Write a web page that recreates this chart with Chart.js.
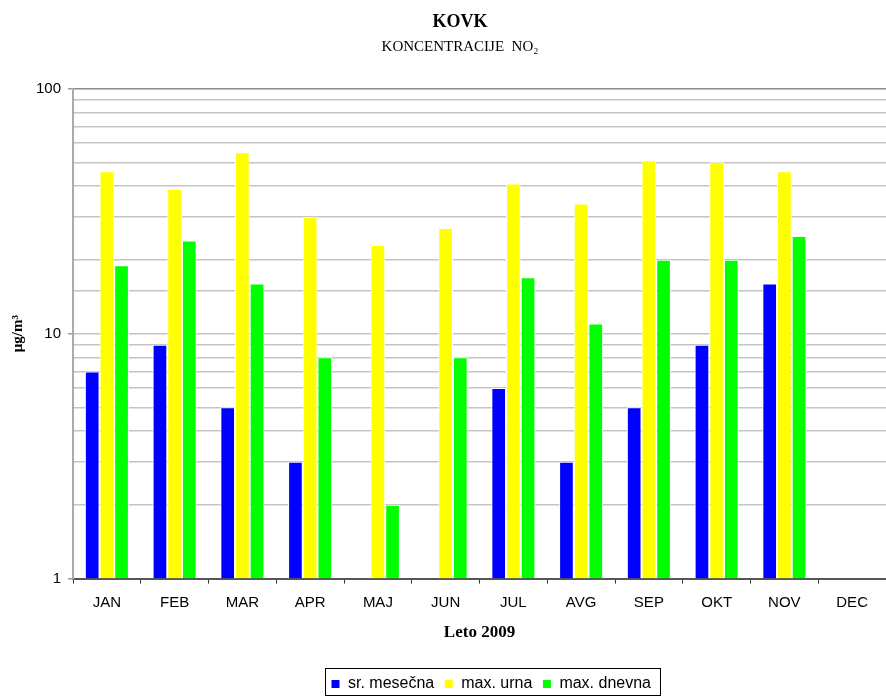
<!DOCTYPE html>
<html>
<head>
<meta charset="utf-8">
<script src="https://cdn.jsdelivr.net/npm/chart.js@4.4.1/dist/chart.umd.min.js"></script>
<style>
  html, body { margin: 0; padding: 0; background: #ffffff; }
  canvas { display: block; }
</style>
</head>
<body>
<canvas id="chart" width="886" height="697"></canvas>
<script>
// Monthly NO2 concentrations at KOVK, 2009 (µg/m³)
const months = ['JAN', 'FEB', 'MAR', 'APR', 'MAJ', 'JUN', 'JUL', 'AVG', 'SEP', 'OKT', 'NOV', 'DEC'];
const srMesecna = [7, 9, 5, 3, null, null, 6, 3, 5, 9, 16, null];
const maxUrna   = [46, 39, 55, 30, 23, 27, 41, 34, 51, 50, 46, null];
const maxDnevna = [19, 24, 16, 8, 2, 8, 17, 11, 20, 20, 25, null];
const yLabelTicks = [1, 10, 100];

const SERIF = "'Liberation Serif', 'Times New Roman', serif";
const SANS = "'Liberation Sans', Arial, sans-serif";

// Shift the header and legend blocks, and frame the legend.
const layoutTweaks = {
  id: 'layoutTweaks',
  afterLayout(chart) {
    for (const box of chart.boxes) {
      if (box.position === 'top') { box.left += 17; box.right += 17; }
    }
    const lg = chart.legend;
    if (lg) { lg.left += 48; lg.right += 48; lg.top += 5; lg.bottom += 5; }
  },
  afterDraw(chart) {
    const lg = chart.legend;
    if (!lg || !lg.legendHitBoxes || !lg.legendHitBoxes.length) return;
    let l = Infinity, r = -Infinity, t = Infinity, b = -Infinity;
    for (const h of lg.legendHitBoxes) {
      l = Math.min(l, h.left); r = Math.max(r, h.left + h.width);
      t = Math.min(t, h.top); b = Math.max(b, h.top + h.height);
    }
    const ctx = chart.ctx;
    ctx.save();
    ctx.strokeStyle = '#000000';
    ctx.lineWidth = 1;
    ctx.strokeRect(Math.round(l - 6) + 0.5, Math.round(t - 8) + 0.5, Math.round(r - l + 15), Math.round(b - t + 11));
    ctx.restore();
  }
};

new Chart(document.getElementById('chart'), {
  type: 'bar',
  data: {
    labels: months,
    datasets: [
      { label: 'sr. mesečna', data: srMesecna, backgroundColor: '#0000ff', borderColor: '#ffffff', borderWidth: 1 },
      { label: 'max. urna', data: maxUrna, backgroundColor: '#ffff00', borderColor: '#ffffff', borderWidth: 1 },
      { label: 'max. dnevna', data: maxDnevna, backgroundColor: '#00ff00', borderColor: '#ffffff', borderWidth: 1 }
    ]
  },
  plugins: [layoutTweaks],
  options: {
    responsive: false,
    animation: false,
    events: [],
    datasets: { bar: { categoryPercentage: 0.65, barPercentage: 1.0 } },
    layout: { padding: { left: 0, right: 0, top: 0, bottom: 0 } },
    plugins: {
      title: {
        display: true,
        text: 'KOVK',
        color: '#000000',
        font: { family: SERIF, size: 18, weight: 'bold' },
        padding: { top: 12, bottom: 4 }
      },
      subtitle: {
        display: true,
        text: 'KONCENTRACIJE  NO\u2082',
        color: '#000000',
        font: { family: SERIF, size: 15, weight: 'normal' },
        padding: { top: 0, bottom: 33 }
      },
      legend: {
        position: 'bottom',
        labels: {
          color: '#000000',
          font: { family: SANS, size: 16 },
          boxWidth: 9,
          boxHeight: 9,
          padding: 10
        }
      },
      tooltip: { enabled: false }
    },
    scales: {
      x: {
        grid: { display: true, drawOnChartArea: false, drawTicks: true, tickLength: 5, offset: true, color: '#333333', lineWidth: 1 },
        border: { display: true, color: '#555555', width: 2 },
        ticks: { color: '#000000', font: { family: SANS, size: 15 }, padding: 10, maxRotation: 0 },
        title: {
          display: true,
          text: 'Leto 2009',
          color: '#000000',
          font: { family: SERIF, size: 17, weight: 'bold' },
          padding: { top: 1, bottom: 18 }
        }
      },
      y: {
        type: 'logarithmic',
        min: 1,
        max: 100,
        afterFit(scale) { scale.width = 73; },
        grid: {
          color: ctx => (ctx.tick && ctx.tick.value === 100) ? '#8c8c8c' : '#c4c4c4',
          lineWidth: 1.6,
          tickLength: 5,
          tickColor: ctx => (ctx.tick && yLabelTicks.includes(ctx.tick.value)) ? '#a0a0a0' : 'rgba(0,0,0,0)'
        },
        border: { display: true, color: '#aaaaaa', width: 2 },
        ticks: {
          autoSkip: false,
          color: '#000000',
          font: { family: SANS, size: 15 },
          padding: 7,
          callback: v => yLabelTicks.includes(v) ? String(v) : ''
        },
        title: {
          display: true,
          text: 'μg/m³',
          color: '#000000',
          font: { family: SERIF, size: 15, weight: 'bold' },
          padding: { top: 9, bottom: 0 }
        }
      }
    }
  }
});
</script>
</body>
</html>
